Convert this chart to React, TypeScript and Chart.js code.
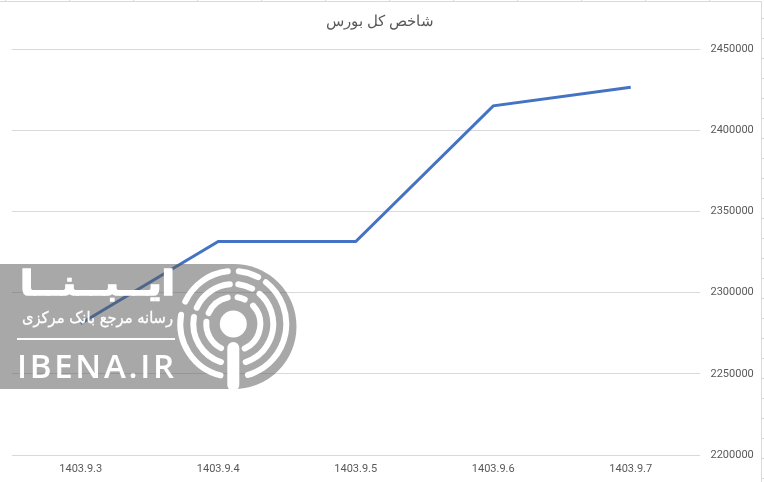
import React, { useEffect, useRef } from "react";
import { Chart, registerables } from "chart.js";

Chart.register(...registerables);

const categories = ["1403.9.3", "1403.9.4", "1403.9.5", "1403.9.6", "1403.9.7"];
const indexValues = [2281000, 2331500, 2331500, 2415000, 2426500];
const titleText = "شاخص کل بورس";
const logoName = "ایــبــنــا";
const logoTagline = "رسانه مرجع بانک مرکزی";
const logoSite = "IBENA.IR";

const sheetFrame = {
  id: "sheetFrame",
  afterLayout(chart: any) {
    chart.titleBlock.left -= 8;
    chart.titleBlock.right -= 8;
  },
  beforeDraw(chart: any) {
    const { ctx, width, height } = chart;
    ctx.save();
    ctx.fillStyle = "#ffffff";
    ctx.fillRect(0, 0, width, height);
    ctx.strokeStyle = "#d9d9d9";
    ctx.lineWidth = 1;
    ctx.beginPath();
    ctx.moveTo(0, 1.5);
    ctx.lineTo(761.5, 1.5);
    ctx.lineTo(761.5, height);
    for (let x = 5; x < 764; x += 64) {
      ctx.moveTo(x + 0.5, 0);
      ctx.lineTo(x + 0.5, 1);
    }
    for (let y = 18; y < height; y += 20) {
      ctx.moveTo(762, y + 0.5);
      ctx.lineTo(764, y + 0.5);
    }
    ctx.stroke();
    ctx.restore();
  },
};

const LOGO_CX = 233.3;
const LOGO_CY = 324;

function arcPath(r: number, from: number, to: number) {
  const pt = (deg: number) => {
    const a = (deg * Math.PI) / 180;
    return `${(LOGO_CX + r * Math.sin(a)).toFixed(2)} ${(LOGO_CY - r * Math.cos(a)).toFixed(2)}`;
  };
  const large = to - from > 180 ? 1 : 0;
  return `M${pt(from)} A${r} ${r} 0 ${large} 1 ${pt(to)}`;
}

const logoArcs: [number, number, number][] = [
  [53, -65, -6],
  [53, 6, 28],
  [53, 38, 164],
  [53, 194, 280],
  [40, -66, -5],
  [40, 7, 28],
  [40, 41, 162],
  [40, 198, 280],
  [27, -66, -12],
  [27, 9, 25],
  [27, 47, 155],
  [27, 207, 275],
];

function Logo() {
  return (
    <svg
      width={764}
      height={482}
      style={{ position: "absolute", left: 0, top: 0, pointerEvents: "none" }}
    >
      <path d="M0 264 H234 A62.5 62.5 0 0 1 234 389 H0 Z" fill="#5a5a5a" fillOpacity={0.53} />
      {logoArcs.map(([r, a, b]) => (
        <path
          key={`${r}-${a}`}
          d={arcPath(r, a, b)}
          fill="none"
          stroke="#ffffff"
          strokeWidth={6}
          strokeLinecap="round"
        />
      ))}
      <circle cx={LOGO_CX} cy={LOGO_CY} r={13.5} fill="#ffffff" />
      <path d={`M${LOGO_CX} 348 V385`} stroke="#ffffff" strokeWidth={12} strokeLinecap="round" />
      <text
        x={175}
        y={295}
        textAnchor="start"
        direction="rtl"
        fontFamily="'DejaVu Sans', sans-serif"
        fontWeight="bold"
        fontSize={34}
        fill="#ffffff"
        stroke="#ffffff"
        strokeWidth={1.5}
        textLength={155}
        lengthAdjust="spacingAndGlyphs"
      >
        {logoName}
      </text>
      <text
        x={173}
        y={323}
        textAnchor="start"
        direction="rtl"
        fontFamily="'DejaVu Sans', sans-serif"
        fontSize={16}
        fill="#ffffff"
        stroke="#ffffff"
        strokeWidth={0.3}
        textLength={151}
        lengthAdjust="spacingAndGlyphs"
      >
        {logoTagline}
      </text>
      <rect x={17} y={338} width={158} height={2} fill="#ffffff" />
      <text
        x={17}
        y={378}
        fontFamily="'Open Sans', 'Liberation Sans', sans-serif"
        fontWeight="600"
        fontSize={33}
        fill="#ffffff"
        textLength={157}
      >
        {logoSite}
      </text>
    </svg>
  );
}

export default function App() {
  const ref = useRef<HTMLCanvasElement>(null);

  useEffect(() => {
    const chart = new Chart(ref.current!, {
      type: "line",
      data: {
        labels: categories,
        datasets: [
          {
            data: indexValues,
            borderColor: "#4472c4",
            borderWidth: 3,
            pointRadius: 0,
            tension: 0,
            fill: false,
          },
        ],
      },
      options: {
        animation: false,
        responsive: false,
        layout: { padding: { left: 12, right: 0, top: 0, bottom: 0 } },
        plugins: {
          legend: { display: false },
          tooltip: { enabled: false },
          title: {
            display: true,
            text: titleText,
            color: "#595959",
            font: { family: "'Liberation Sans', Arial, sans-serif", size: 15, weight: "normal" },
            padding: { top: 13, bottom: 18 },
          },
        },
        scales: {
          x: {
            offset: true,
            grid: { display: false, drawTicks: false },
            border: { display: false },
            ticks: {
              color: "#595959",
              font: { family: "Roboto, 'Liberation Sans', sans-serif", size: 11 },
              maxRotation: 0,
              padding: 8,
            },
            afterFit(scale: any) {
              scale.height = 27;
            },
          },
          y: {
            position: "right",
            min: 2200000,
            max: 2450000,
            grid: { color: "#d9d9d9", lineWidth: 1, drawTicks: false },
            border: { display: false },
            ticks: {
              stepSize: 50000,
              color: "#595959",
              font: { family: "Roboto, 'Liberation Sans', sans-serif", size: 11 },
              padding: 11,
              callback: (v: any) => String(v),
            },
            afterFit(scale: any) {
              scale.width = 64.5;
            },
          },
        },
      },
      plugins: [sheetFrame],
    });
    return () => chart.destroy();
  }, []);

  return (
    <div style={{ position: "absolute", left: 0, top: 0, width: 764, height: 482 }}>
      <canvas ref={ref} width={764} height={482} style={{ display: "block" }} />
      <Logo />
    </div>
  );
}
